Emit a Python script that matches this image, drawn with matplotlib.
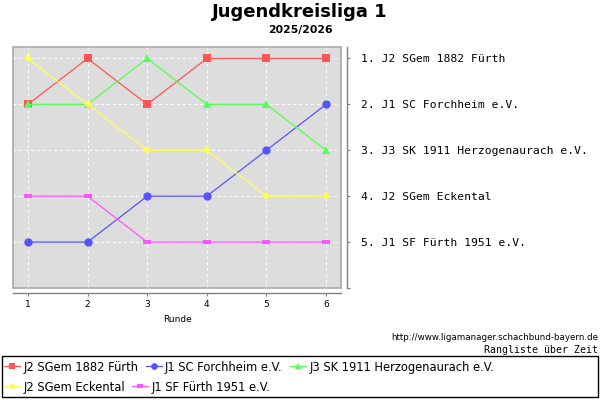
"""Rangliste über Zeit - Jugendkreisliga 1 (2025/2026)."""
import matplotlib

matplotlib.use("Agg")
import matplotlib.pyplot as plt  # noqa: E402
from matplotlib.lines import Line2D  # noqa: E402
from matplotlib.patches import Rectangle  # noqa: E402

rounds = [1, 2, 3, 4, 5, 6]
teams = [
    "J2 SGem 1882 Fürth",
    "J1 SC Forchheim e.V.",
    "J3 SK 1911 Herzogenaurach e.V.",
    "J2 SGem Eckental",
    "J1 SF Fürth 1951 e.V.",
]
rank_sgem_fuerth = [2, 1, 2, 1, 1, 1]
rank_forchheim = [5, 5, 4, 4, 3, 2]
rank_herzogenaurach = [2, 2, 1, 2, 2, 3]
rank_eckental = [1, 2, 3, 3, 4, 4]
rank_sf_fuerth = [4, 4, 5, 5, 5, 5]
final_labels = [
    "1. J2 SGem 1882 Fürth",
    "2. J1 SC Forchheim e.V.",
    "3. J3 SK 1911 Herzogenaurach e.V.",
    "4. J2 SGem Eckental",
    "5. J1 SF Fürth 1951 e.V.",
]

series = [rank_sgem_fuerth, rank_forchheim, rank_herzogenaurach,
          rank_eckental, rank_sf_fuerth]
colors = ["#FF5555", "#5555FF", "#55FF55", "#FFFF55", "#FF55FF"]
hrect = [(-1, -0.55), (1, -0.55), (1, 0.55), (-1, 0.55), (-1, -0.55)]
markers = ["s", "o", "^", "D", hrect]
msizes = [5.4, 6.0, 6.2, 4.4, 5.2]

fig = plt.figure(figsize=(6, 4), dpi=100)
ax = fig.add_axes([13 / 600, 1 - 288 / 400, 328 / 600, 241 / 400])
ax.set_facecolor("#DDDDDD")

handles = []
for ranks, name, c, m, ms in zip(series, teams, colors, markers, msizes):
    ax.plot(rounds, ranks, color=c, lw=0.9, marker=m, ms=ms,
            markeredgewidth=0, zorder=3)
    handles.append(Line2D([], [], color=c, lw=0.9, marker=m, ms=ms * 0.8,
                          markeredgewidth=0, label=name))

ax.set_xlim(0.75, 6.25)
ax.set_ylim(6.0, 0.75)
ax.set_xticks(rounds)
ax.yaxis.tick_right()
ax.set_yticks([1, 2, 3, 4, 5, 6])
ax.set_yticklabels(final_labels + [""])
ax.tick_params(axis="x", labelsize=6.5, colors="#808080", labelcolor="black",
               length=2, pad=3)
ax.tick_params(axis="y", colors="#808080", labelcolor="black", length=2, pad=8,
               labelsize=8.2, labelfontfamily="DejaVu Sans Mono")
ax.set_xlabel("Runde", fontsize=6.5, labelpad=4)

for v in rounds:
    ax.axvline(v, color="white", lw=0.7, ls=(0, (3, 3)), zorder=1)
for v in [1, 2, 3, 4, 5]:
    ax.axhline(v, color="white", lw=0.7, ls=(0, (3, 3)), zorder=1)

for s in ["top", "left"]:
    ax.spines[s].set_visible(False)
ax.spines["bottom"].set_position(("outward", 3.6))
ax.spines["right"].set_position(("outward", 4.3))
for s in ["bottom", "right"]:
    ax.spines[s].set_color("#808080")
    ax.spines[s].set_linewidth(1.0)
ax.add_patch(Rectangle((0, 0), 1, 1, transform=ax.transAxes, fill=False,
                       edgecolor="#AAAAAA", lw=1.2, clip_on=False, zorder=4))

fig.text(0.5, 1 - 12 / 400, "Jugendkreisliga 1", ha="center", va="center",
         fontsize=13, weight="bold")
fig.text(0.5, 1 - 30 / 400, "2025/2026", ha="center", va="center",
         fontsize=7.8, weight="bold")
fig.text(598 / 600, 1 - 338 / 400, "http://www.ligamanager.schachbund-bayern.de",
         ha="right", va="center", fontsize=6.3)
fig.text(598 / 600, 1 - 350 / 400, "Rangliste über Zeit", ha="right",
         va="center", fontsize=7.1, family="DejaVu Sans Mono")

# legend box with two flowing rows
fig.add_artist(Rectangle((2 / 600, 1 - 397 / 400), 596 / 600, 41 / 400,
                         transform=fig.transFigure, fill=False,
                         edgecolor="black", lw=1.0))
leg_kw = dict(frameon=False, fontsize=8.3, handlelength=1.4, handletextpad=0.3,
              columnspacing=0.6, borderpad=0, borderaxespad=0, loc="center left")
fig.legend(handles=handles[:3], ncol=3,
           bbox_to_anchor=(4 / 600, 1 - 367 / 400), **leg_kw)
fig.legend(handles=handles[3:], ncol=2,
           bbox_to_anchor=(4 / 600, 1 - 387 / 400), **leg_kw)

fig.savefig("out.png", dpi=100)
